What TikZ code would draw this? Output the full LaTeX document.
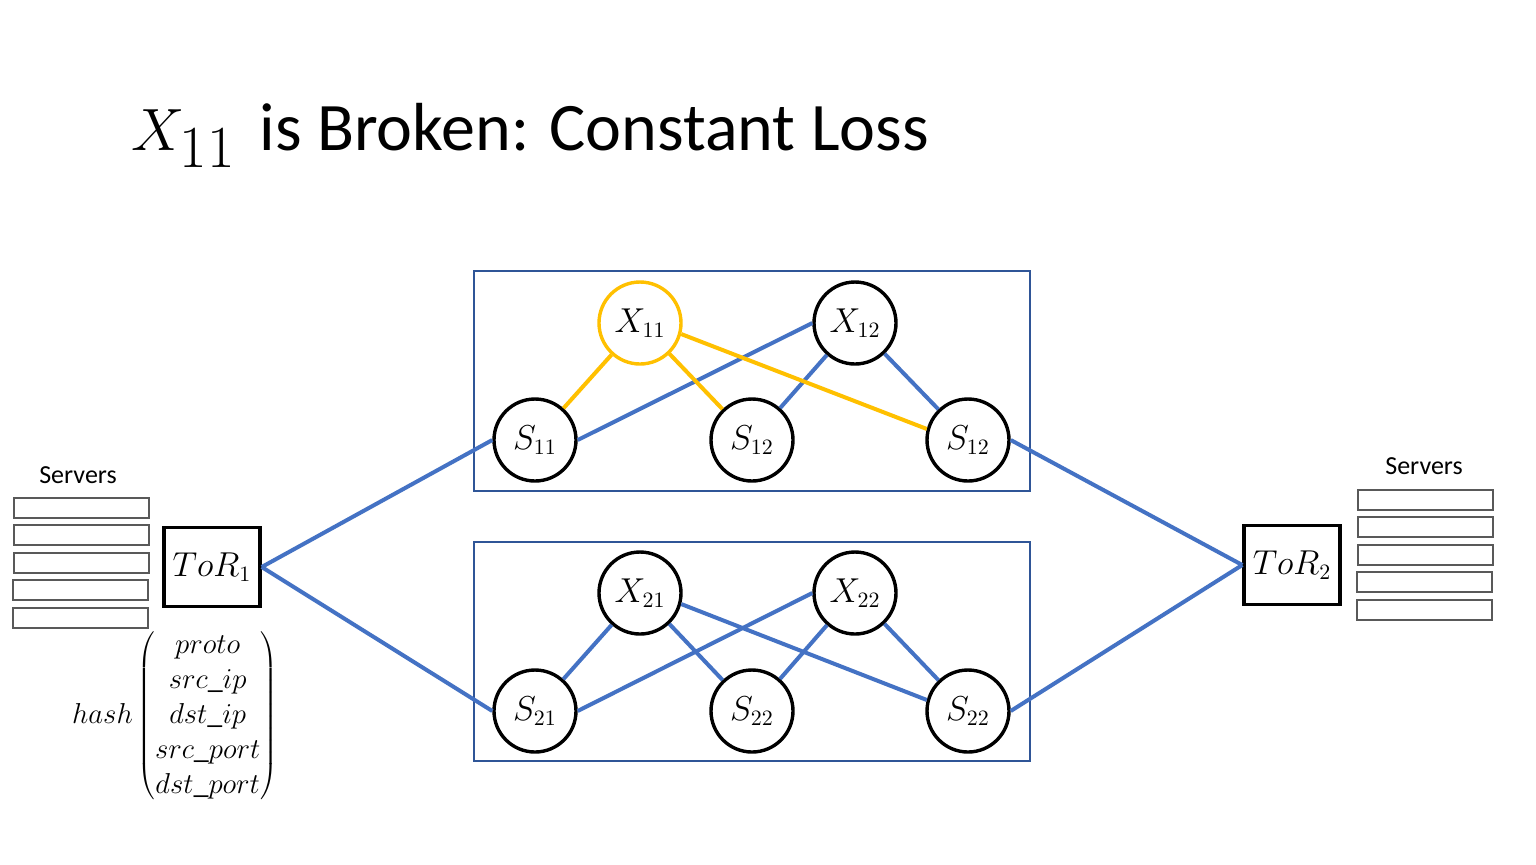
\documentclass[tikz,border=0pt]{standalone}
\usepackage{fontspec}
\setmainfont{Carlito}
\definecolor{eblue}{HTML}{4472C4}
\definecolor{bblue}{HTML}{2F5597}
\definecolor{eyel}{HTML}{FFC000}
\definecolor{sgray}{HTML}{595959}
\begin{document}
\begin{tikzpicture}[x=0.5pt,y=-0.5pt,
  sw/.style={circle,draw=black,line width=1.7pt,minimum size=41pt,inner sep=0pt,font=\fontsize{16}{18}\selectfont},
  swy/.style={sw,draw=eyel},
  tor/.style={rectangle,draw=black,line width=1.7pt,minimum width=48pt,minimum height=39.5pt,inner sep=0pt,font=\fontsize{16}{18}\selectfont},
  grp/.style={draw=bblue,line width=0.8pt},
  ln/.style={draw=eblue,line width=2pt},
  lny/.style={draw=eyel,line width=2pt},
  srv/.style={draw=sgray,line width=1pt,minimum width=67.5pt,minimum height=10pt,inner sep=0pt},
  lbl/.style={font=\fontsize{13}{15}\selectfont}]
\useasboundingbox (0,0) rectangle (1536,864);
\fill[white] (0,0) rectangle (1536,864);
% title
\node[anchor=base west,inner sep=0pt,font=\fontsize{34}{42}\selectfont] (title) at (131,150) {\scalebox{1.2}{$X_{11}$}\hspace{0.35em}is Broken: Constant Loss};
% group boxes
\node[grp,minimum width=278pt,minimum height=110pt,inner sep=0pt] (top) at (752,381) {};
\node[grp,minimum width=278pt,minimum height=109.5pt,inner sep=0pt] (bot) at (752,651.5) {};
% top switches
\node[swy] (x11) at (640,323) {$X_{11}$};
\node[sw] (x12) at (855,323) {$X_{12}$};
\node[sw] (s11) at (535,440) {$S_{11}$};
\node[sw] (s12a) at (752,440) {$S_{12}$};
\node[sw] (s12b) at (968,440) {$S_{12}$};
% bottom switches
\node[sw] (x21) at (640,593) {$X_{21}$};
\node[sw] (x22) at (855,593) {$X_{22}$};
\node[sw] (s21) at (535,711) {$S_{21}$};
\node[sw] (s22a) at (752,711) {$S_{22}$};
\node[sw] (s22b) at (968,711) {$S_{22}$};
% ToR
\node[tor] (tor1) at (212,567) {$ToR_1$};
\node[tor] (tor2) at (1292,565) {$ToR_2$};
% edges top
\draw[ln] (x12.west) -- (s11.east);
\draw[ln] (x12) -- (s12a);
\draw[ln] (x12) -- (s12b);
\draw[lny] (x11) -- (s11);
\draw[lny] (x11) -- (s12a);
\draw[lny] (x11.-15) -- (s12b.165);
% edges bottom
\draw[ln] (x21) -- (s21);
\draw[ln] (x21) -- (s22a);
\draw[ln] (x21.-15) -- (s22b.165);
\draw[ln] (x22.west) -- (s21.east);
\draw[ln] (x22) -- (s22a);
\draw[ln] (x22) -- (s22b);
% ToR links
\draw[ln] (tor1.east) -- (s11.west);
\draw[ln] (tor1.east) -- (s21.west);
\draw[ln] (tor2.west) -- (s12b.east);
\draw[ln] (tor2.west) -- (s22b.east);
% servers left
\node[lbl] (lsv) at (78,475) {Servers};
\node[srv] (l1) at (81,508) {};
\node[srv] (l2) at (81,535) {};
\node[srv] (l3) at (81,562.5) {};
\node[srv] (l4) at (80,590) {};
\node[srv] (l5) at (80,618) {};
% servers right
\node[lbl] (rsv) at (1424,466) {Servers};
\node[srv] (r1) at (1425,500) {};
\node[srv] (r2) at (1425,527) {};
\node[srv] (r3) at (1425,555) {};
\node[srv] (r4) at (1424,582) {};
\node[srv] (r5) at (1424,610) {};
% hash
\node[inner sep=0pt,font=\fontsize{15}{17.5}\selectfont] (hash) at (175,716) {$hash\left(\begin{array}{@{}c@{}}proto\\ src\_ip\\ dst\_ip\\ src\_port\\ dst\_port\end{array}\right)$};
\end{tikzpicture}
\end{document}
